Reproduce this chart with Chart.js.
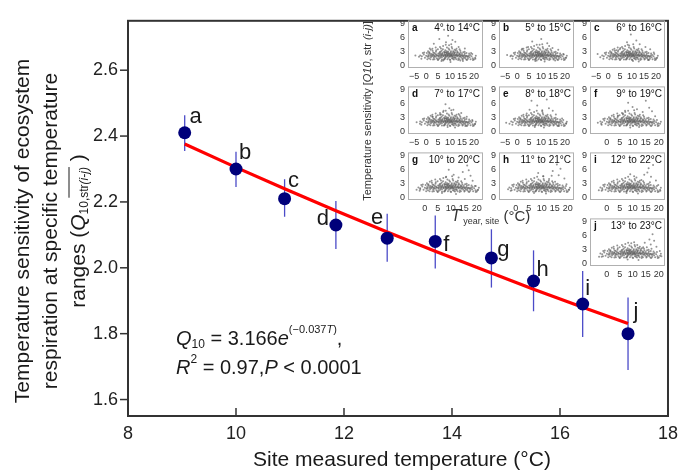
<!DOCTYPE html>
<html>
<head>
<meta charset="utf-8">
<script src="https://cdn.jsdelivr.net/npm/chart.js@4.4.1/dist/chart.umd.min.js"></script>
<style>
body { margin: 0; background: #fff; }
#wrap { position: relative; width: 685px; height: 470px; }
#wrap canvas { position: absolute; }
</style>
</head>
<body>
<div id="wrap"><canvas id="main" width="685" height="470" style="left:0;top:0"></canvas></div>
<script>
// main panel: site means with error bars
var site_labels = ['a', 'b', 'c', 'd', 'e', 'f', 'g', 'h', 'i', 'j'];
var site_temp = [9.05, 10.0, 10.9, 11.85, 12.8, 13.69, 14.73, 15.51, 16.42, 17.26];
var q10_mean = [2.41, 2.30, 2.21, 2.13, 2.09, 2.08, 2.03, 1.96, 1.89, 1.80];
var q10_low = [2.355, 2.245, 2.155, 2.057, 2.018, 1.998, 1.94, 1.868, 1.79, 1.69];
var q10_high = [2.463, 2.352, 2.269, 2.203, 2.164, 2.159, 2.117, 2.053, 1.99, 1.91];
var fit_q10 = [2.376, 2.305, 2.240, 2.173, 2.109, 2.050, 1.984, 1.935, 1.880, 1.831];
var x_ticks = [8, 10, 12, 14, 16, 18];
var y_ticks = [1.6, 1.8, 2.0, 2.2, 2.4, 2.6];

// inset panels
var inset_ranges = ['4° to 14°C', '5° to 15°C', '6° to 16°C', '7° to 17°C', '8° to 18°C',
                    '9° to 19°C', '10° to 20°C', '11° to 21°C', '12° to 22°C', '13° to 23°C'];
var inset_x_ticks_wide = [-5, 0, 5, 10, 15, 20];
var inset_x_ticks_narrow = [0, 5, 10, 15, 20];
var inset_y_ticks = [0, 3, 6, 9];
var inset_cloud_common =
  '-2.5,2.1 -1.8,1.9 -1,2.3 -0.5,1.6 0,2.0 0.3,2.6 0.6,1.8 0.9,2.2 1.2,1.5 1.4,2.8 1.7,2.0 2.0,1.7 ' +
  '2.2,2.4 2.5,1.9 2.7,3.1 3.0,2.2 3.2,1.6 3.4,2.6 3.6,2.0 3.9,1.8 4.1,2.9 4.3,2.3 4.5,1.5 4.7,2.1 ' +
  '4.9,3.4 5.1,2.5 5.3,1.8 5.5,2.2 5.7,2.8 5.9,1.6 6.1,2.4 6.2,3.6 6.4,2.0 6.6,1.7 6.8,2.6 7.0,2.2 ' +
  '7.1,4.1 7.3,1.9 7.5,2.9 7.7,2.3 7.8,1.5 8.0,3.2 8.2,2.1 8.3,2.7 8.5,1.8 8.7,3.8 8.8,2.4 9.0,2.0 ' +
  '9.2,2.9 9.3,1.6 9.5,2.5 9.7,3.3 9.8,2.1 10.0,1.8 10.2,2.7 10.4,2.2 10.5,4.5 10.7,1.9 10.9,2.6 ' +
  '11.1,2.1 11.3,3.0 11.5,1.7 11.7,2.4 11.9,2.0 12.1,2.8 12.3,1.6 12.5,2.3 12.7,3.5 12.9,1.9 13.1,2.2 ' +
  '13.3,2.7 13.5,1.5 13.7,2.0 13.9,2.5 14.1,1.8 14.3,3.1 14.6,2.1 14.8,1.6 15.0,2.4 15.3,1.9 15.5,2.8 ' +
  '15.8,1.7 16.0,2.2 16.3,1.5 16.6,2.0 16.9,2.6 17.2,1.8 17.5,1.4 17.8,2.1 18.2,1.7 18.6,1.3 19.0,1.9 ' +
  '19.5,1.5 20.0,1.2 20.5,1.6 5.2,2.0 5.6,2.5 6.0,1.9 6.3,2.2 6.7,2.4 7.2,2.0 7.6,2.6 7.9,2.2 8.1,1.9 ' +
  '8.4,2.3 8.6,2.6 8.9,2.0 9.1,2.2 9.4,2.4 9.6,1.9 9.9,2.3 10.1,2.5 10.3,2.0 10.6,2.2 10.8,2.4 11.0,1.8 ' +
  '11.4,2.2 11.8,2.5 12.2,2.0 12.6,2.2 4.4,2.0 3.8,2.4 3.3,1.9 2.8,2.3 2.3,2.1 1.6,2.4 1.0,1.9 13.2,2.0 ' +
  '13.8,2.3 14.4,1.9 15.1,2.1 15.7,2.0 16.4,1.8 17.0,2.0 17.6,1.8 ' +
  '-2.0,1.4 -0.8,2.7 0.5,1.3 1.9,3.3 2.9,1.2 4.0,3.8 4.8,1.2 6.5,3.1 7.4,1.2 8.6,3.0 9.9,1.2 ' +
  '10.9,3.6 11.6,1.2 12.4,3.2 13.4,1.1 14.0,3.4 15.2,1.2 16.1,2.9 16.8,1.2 18.0,2.5 19.3,2.4 20.8,2.0 ' +
  '0.8,3.0 1.8,1.3 2.6,3.5 3.5,1.3 4.2,3.2 5.0,1.1 5.8,3.9 6.6,1.2 7.0,3.4 7.7,1.3 8.2,4.4 8.9,1.3 ' +
  '9.4,3.6 10.1,1.1 10.7,3.9 11.2,1.4 11.9,3.3 12.6,1.3 13.0,3.0 13.9,1.3 14.5,2.7 15.4,1.4 16.2,2.5 ' +
  '17.1,1.1 18.4,2.2 19.6,1.1 6.0,2.9 7.9,2.8 9.0,2.7 10.4,3.0 11.6,2.8 12.9,2.6 14.2,2.3 5.4,1.4 ' +
  '8.0,1.6 10.8,1.5 12.0,1.6 3.0,2.7 1.2,2.6 -1.4,2.6';
var inset_cloud_extra = [
  '-4.5,2.1 -3,1.8 7.5,7.6 9.2,6.3 5.5,5.6 12.2,5.0 8.3,4.9 11.0,5.4 3.2,4.6 10.2,0.7 6.4,0.9 14.3,1.0 16.2,3.6 18.8,2.6 20.6,1.4 1.5,3.6 13.6,3.9 15.4,0.9 7.1,1.0 9.6,4.3',
  '-4.2,2.2 -2.8,1.9 8.8,7.7 10.1,5.6 6.3,5.1 12.6,4.7 9.4,4.4 4.6,3.9 14.8,3.7 17.2,3.3 11.5,0.8 7.6,0.9 15.9,1.0 19.5,2.3 20.3,1.6 2.1,3.5 13.4,4.1 8.2,1.0',
  '-4.4,2.4 -3.3,1.7 9.5,6.6 11.8,5.3 7.9,4.9 13.2,4.5 15.6,3.9 5.1,3.7 17.6,3.4 10.4,0.9 12.8,0.8 16.7,1.1 20.2,1.5 19.1,2.7 3.4,3.2 8.8,4.2',
  '-4.0,1.9 -2.6,1.6 8.1,5.8 9.7,4.9 7.3,4.4 11.4,4.6 14.7,3.9 5.8,3.5 17.0,3.1 12.1,0.8 9.0,0.9 16.4,1.1 20.4,1.5 19.4,2.2 2.6,3.1 13.6,3.7',
  '-4.6,1.8 -3.2,1.6 6.0,6.5 8.4,5.5 5.2,4.6 10.5,4.3 13.3,4.9 12.4,6.8 16.2,3.6 14.9,4.4 3.8,3.4 18.8,2.7 11.2,0.8 7.4,0.9 17.5,1.1 20.5,1.7',
  '-3.5,1.8 -2.2,1.6 8.2,6.1 9.9,5.2 7.0,4.4 11.6,4.7 13.8,4.1 15.0,6.5 17.4,4.3 16.3,5.0 18.6,3.2 4.3,3.3 12.4,0.9 9.0,0.8 19.8,1.7 6.2,3.8',
  '-3.2,1.6 -1.8,1.7 9.2,5.9 11.1,4.8 14.6,5.4 16.3,6.8 17.6,4.6 15.4,3.9 18.4,3.5 13.0,4.2 8.1,4.3 12.0,0.7 6.6,0.9 19.6,2.4 20.3,1.5 16.9,5.8',
  '-3.0,1.7 -1.6,1.5 8.6,5.2 10.6,4.5 14.2,5.6 15.8,7.0 17.2,6.1 16.5,4.7 18.7,4.0 12.8,3.9 15.1,3.3 11.6,0.8 7.0,0.9 19.5,2.8 20.4,1.6 13.8,4.6',
  '-3.1,1.5 -1.7,1.6 9.0,4.9 11.4,4.2 14.4,4.8 16.1,6.2 17.8,6.9 17.0,4.4 18.9,3.6 13.3,3.7 15.6,5.3 12.0,0.8 7.6,0.9 19.8,2.6 20.6,1.4 16.6,3.2',
  '-3.0,1.4 -1.5,1.5 9.4,4.3 11.7,3.9 14.6,4.4 16.4,5.1 17.6,6.2 18.2,4.8 19.1,3.5 15.4,3.4 13.5,3.2 12.2,0.7 8.0,0.8 20.4,2.6 21.0,1.5 16.9,4.0 17.2,3.1'
];

var FONT = '"Liberation Sans", Arial, sans-serif';
Chart.defaults.font.family = FONT;
Chart.defaults.color = '#222';

// label nudges (px) for a..j
var label_offsets = [[11, -16], [9, -16], [9, -18], [-13, -6], [-10, -20],
                     [11, 3], [12, -8], [9, -11], [5, -15], [8, -22]];

function parsePairs(s) {
  return s.trim().split(/\s+/).map(function (p) {
    var v = p.split(',');
    return { x: +v[0], y: +v[1] };
  });
}

// draw a row of text runs [text, font, dy]
function drawRuns(ctx, runs, x, y, align) {
  var total = 0;
  runs.forEach(function (r) { ctx.font = r[1]; r.w = ctx.measureText(r[0]).width; total += r.w; });
  var cx = align === 'center' ? x - total / 2 : x;
  runs.forEach(function (r) {
    ctx.font = r[1];
    ctx.fillText(r[0], cx, y + (r[2] || 0));
    r.x0 = cx;
    cx += r.w;
  });
  return runs;
}

function drawRotated(ctx, runs, cx, cy) {
  ctx.save();
  ctx.translate(cx, cy);
  ctx.rotate(-Math.PI / 2);
  ctx.textAlign = 'left';
  ctx.textBaseline = 'middle';
  drawRuns(ctx, runs, 0, 0, 'center');
  ctx.restore();
  return runs;
}

function f(size, style) { return (style ? style + ' ' : '') + size + 'px ' + FONT; }

const mainDecor = {
  id: 'mainDecor',
  beforeDatasetsDraw(chart) {
    const ctx = chart.ctx, xs = chart.scales.x, ys = chart.scales.y;
    ctx.save();
    ctx.strokeStyle = '#4b4bc8';
    ctx.lineWidth = 1.3;
    site_temp.forEach(function (t, i) {
      const px = xs.getPixelForValue(t);
      ctx.beginPath();
      ctx.moveTo(px, ys.getPixelForValue(q10_low[i]));
      ctx.lineTo(px, ys.getPixelForValue(q10_high[i]));
      ctx.stroke();
    });
    ctx.restore();
  },
  afterDraw(chart) {
    const ctx = chart.ctx, a = chart.chartArea, xs = chart.scales.x, ys = chart.scales.y;
    ctx.save();
    // frame
    ctx.strokeStyle = '#333';
    ctx.lineWidth = 2;
    ctx.strokeRect(a.left, a.top, a.right - a.left, a.bottom - a.top);
    // ticks: y outward, x inward
    ctx.lineWidth = 1.5;
    ys.ticks.forEach(function (t) {
      const py = ys.getPixelForValue(t.value);
      ctx.beginPath(); ctx.moveTo(a.left - 8, py); ctx.lineTo(a.left, py); ctx.stroke();
    });
    xs.ticks.forEach(function (t) {
      const px = xs.getPixelForValue(t.value);
      ctx.beginPath(); ctx.moveTo(px, a.bottom); ctx.lineTo(px, a.bottom - 8); ctx.stroke();
    });

    ctx.fillStyle = '#1a1a1a';
    // point letters
    const pts = chart.getDatasetMeta(0).data;
    ctx.font = f(22);
    ctx.textAlign = 'center';
    ctx.textBaseline = 'middle';
    site_labels.forEach(function (lab, i) {
      ctx.fillText(lab, pts[i].x + label_offsets[i][0], pts[i].y + label_offsets[i][1]);
    });

    // axis titles
    ctx.font = f(21);
    ctx.fillText('Site measured temperature (°C)', (a.left + a.right) / 2 + 4, 460);
    ctx.textAlign = 'left';
    drawRotated(ctx, [['Temperature sensitivity of ecosystem', f(21)]], 23, 231);
    drawRotated(ctx, [['respiration at specific temperature', f(21)]], 51, 231);
    const r3 = drawRotated(ctx, [
      ['ranges (', f(21)], ['Q', f(21, 'italic')], ['10,', f(12), 6], ['str', f(12), 6],
      ['(i-j)', f(12, 'italic'), 6], [' )', f(21)]
    ], 79, 231);
    // overline above str(i-j)
    ctx.save();
    ctx.translate(79, 231);
    ctx.rotate(-Math.PI / 2);
    ctx.strokeStyle = '#1a1a1a';
    ctx.lineWidth = 1;
    ctx.beginPath();
    ctx.moveTo(r3[3].x0, -10);
    ctx.lineTo(r3[4].x0 + r3[4].w, -10);
    ctx.stroke();
    ctx.restore();

    // equation
    ctx.textAlign = 'left';
    ctx.textBaseline = 'middle';
    drawRuns(ctx, [
      ['Q', f(20, 'italic')], ['10', f(12), 6], [' = 3.166', f(20)], ['e', f(20, 'italic')],
      ['(−0.037', f(11), -9], ['T', f(11, 'italic'), -9], [')', f(11), -9], [',', f(20)]
    ], 176, 339);
    drawRuns(ctx, [
      ['R', f(20, 'italic')], ['2', f(12), -8], [' = 0.97,', f(20)], ['P', f(20, 'italic')],
      [' < 0.0001', f(20)]
    ], 176, 368);

    // inset axis titles
    ctx.fillStyle = '#333';
    drawRotated(ctx, [
      ['Temperature sensitivity [', f(11)], ['Q10', f(11, 'italic')], [', str ', f(11)],
      ['(i-j)', f(11, 'italic')], [']', f(11)]
    ], 368, 111);
    drawRuns(ctx, [
      ['T', f(16, 'italic')], [' year, site', f(9), 5], [' (°C)', f(15)]
    ], 451, 217);
    ctx.restore();
  }
};

new Chart(document.getElementById('main'), {
  type: 'scatter',
  data: {
    datasets: [
      {
        data: site_temp.map(function (t, i) { return { x: t, y: q10_mean[i] }; }),
        pointRadius: 6.5,
        pointHoverRadius: 6.5,
        backgroundColor: '#00007a',
        borderWidth: 0,
        order: 1
      },
      {
        data: site_temp.map(function (t, i) { return { x: t, y: fit_q10[i] }; }),
        showLine: true,
        borderColor: '#ff0000',
        borderWidth: 3.2,
        pointRadius: 0,
        order: 2
      }
    ]
  },
  options: {
    responsive: false,
    animation: false,
    events: [],
    layout: { padding: { left: 0, top: 14, right: 10, bottom: 0 } },
    plugins: { legend: { display: false }, tooltip: { enabled: false } },
    scales: {
      x: {
        type: 'linear', min: 8, max: 18,
        grid: { display: false, drawTicks: false }, border: { display: false },
        afterBuildTicks: function (s) { s.ticks = x_ticks.map(function (v) { return { value: v }; }); },
        afterFit: function (s) { s.height = 54; },
        ticks: { font: { size: 18 }, color: '#222', padding: 7, maxRotation: 0 }
      },
      y: {
        type: 'linear', min: 1.55, max: 2.75,
        grid: { display: false, drawTicks: false }, border: { display: false },
        afterBuildTicks: function (s) { s.ticks = y_ticks.map(function (v) { return { value: v }; }); },
        afterFit: function (s) { s.width = 128; },
        ticks: { font: { size: 18 }, color: '#222', padding: 10,
                 callback: function (v) { return Number(v).toFixed(1); } }
      }
    }
  },
  plugins: [mainDecor]
});

const insetDecor = {
  id: 'insetDecor',
  afterDraw(chart, args, opts) {
    const ctx = chart.ctx, a = chart.chartArea;
    ctx.save();
    ctx.strokeStyle = '#b0b0b0';
    ctx.lineWidth = 1;
    ctx.strokeRect(a.left + 0.5, a.top + 0.5, a.right - a.left - 1, a.bottom - a.top - 1);
    ctx.fillStyle = '#111';
    ctx.textBaseline = 'middle';
    ctx.font = f(10, 'bold');
    ctx.textAlign = 'left';
    ctx.fillText(opts.letter, a.left + 4, a.top + 8);
    ctx.font = f(10);
    ctx.textAlign = 'right';
    ctx.fillText(opts.range, a.right - 3, a.top + 8);
    ctx.restore();
  }
};

var inset_cols = [408, 499, 590];
var inset_rows = [17, 83, 149, 215];
var common_pts = parsePairs(inset_cloud_common);

site_labels.forEach(function (lab, i) {
  var col = i < 9 ? i % 3 : 2;
  var row = i < 9 ? Math.floor(i / 3) : 3;
  var wide = i < 5;
  var cv = document.createElement('canvas');
  cv.width = 101;
  cv.height = 70;
  cv.style.left = (inset_cols[col] - 18) + 'px';
  cv.style.top = (inset_rows[row] - 5) + 'px';
  document.getElementById('wrap').appendChild(cv);
  var xt = wide ? inset_x_ticks_wide : inset_x_ticks_narrow;
  new Chart(cv, {
    type: 'scatter',
    data: {
      datasets: [{
        data: common_pts.concat(parsePairs(inset_cloud_extra[i])),
        pointRadius: 1,
        pointBackgroundColor: 'rgba(90,90,90,0.65)',
        pointBorderWidth: 0
      }]
    },
    options: {
      responsive: false,
      animation: false,
      events: [],
      layout: { padding: { left: 0, top: 5, right: 8, bottom: 0 } },
      plugins: {
        legend: { display: false }, tooltip: { enabled: false },
        insetDecor: { letter: lab, range: inset_ranges[i] }
      },
      scales: {
        x: {
          type: 'linear', min: wide ? -7.6 : -6.5, max: wide ? 23.8 : 22.4,
          grid: { display: false, drawTicks: false }, border: { display: false },
          afterBuildTicks: function (s) { s.ticks = xt.map(function (v) { return { value: v }; }); },
          afterFit: function (s) { s.height = 14; },
          ticks: { font: { size: 9 }, color: '#333', padding: 3, maxRotation: 0, autoSkip: false,
                   callback: function (v) { return v < 0 ? '−' + Math.abs(v) : v; } }
        },
        y: {
          type: 'linear', min: -0.6, max: 9.6,
          grid: { display: false, drawTicks: false }, border: { display: false },
          afterBuildTicks: function (s) { s.ticks = inset_y_ticks.map(function (v) { return { value: v }; }); },
          afterFit: function (s) { s.width = 18; },
          ticks: { font: { size: 9 }, color: '#333', padding: 3 }
        }
      }
    },
    plugins: [insetDecor]
  });
});
</script>
</body>
</html>
